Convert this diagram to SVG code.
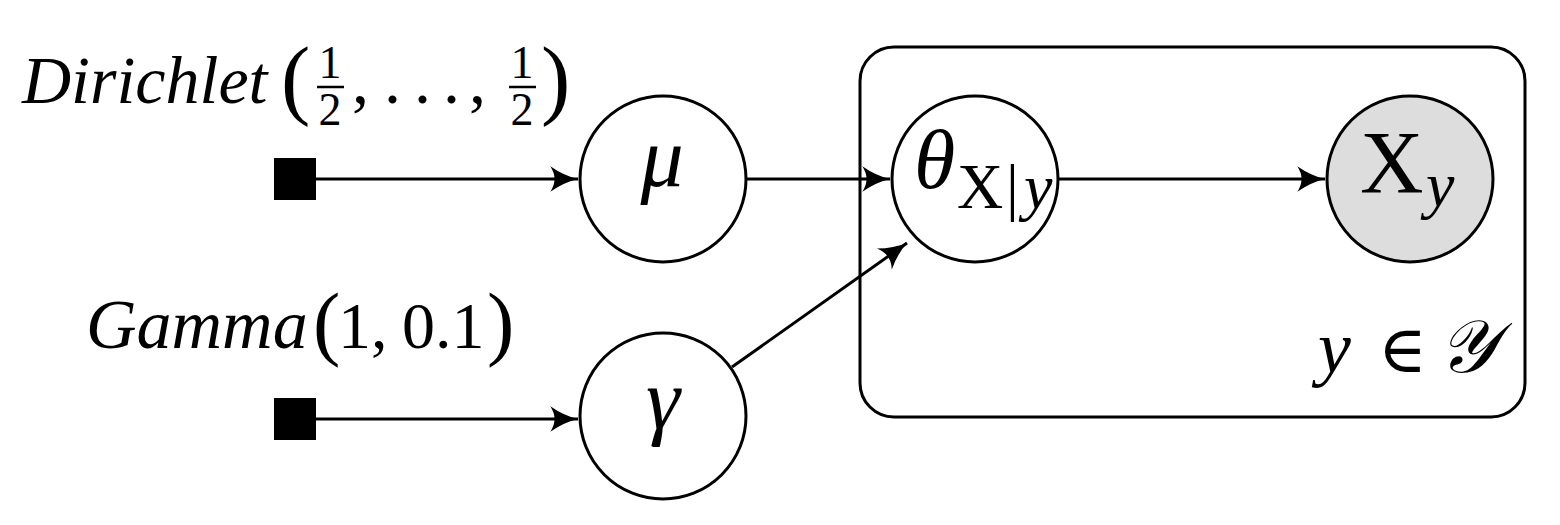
<svg xmlns="http://www.w3.org/2000/svg" width="1560" height="525" viewBox="0 0 1560 525">
<style>
.n{fill:#fff;stroke:#000;stroke-width:3}
.obs{fill:#dddddd;stroke:#000;stroke-width:3}
.e{stroke:#000;stroke-width:3;fill:none;marker-end:url(#ah)}
.t{font-family:"Liberation Serif","DejaVu Serif",serif;fill:#000}
.i{font-style:italic}
</style>
<defs>
<marker id="ah" markerUnits="userSpaceOnUse" markerWidth="32" markerHeight="32" viewBox="-28 -14 30 28" refX="0" refY="0" orient="auto">
<path d="M-26,-12 Q-13,-3 0,0 Q-13,3 -26,12 Q-18,0 -26,-12 Z" fill="#000"/>
</marker>
</defs>
<g id="plate">
<rect x="860" y="47" width="665" height="370" rx="34" ry="34" fill="none" stroke="#000" stroke-width="3"/>
<text class="t" font-size="74" y="372"><tspan class="i" x="1318">y</tspan><tspan x="1378" font-size="66">∈</tspan><tspan class="i" x="1438" font-family="'DejaVu Serif',serif">𝒴</tspan></text>
</g>
<g id="edges">
<line class="e" x1="316" y1="179" x2="578" y2="179"/>
<line class="e" x1="316" y1="419" x2="578" y2="419"/>
<line class="e" x1="747" y1="179" x2="890" y2="179"/>
<line class="e" x1="732" y1="367" x2="907" y2="243"/>
<line class="e" x1="1059" y1="179" x2="1325" y2="179"/>
</g>
<g id="dirichlet">
<rect x="274" y="158" width="42" height="42" fill="#000"/>
<text class="t i" font-size="68" x="22" y="103">Dirichlet</text>
<text class="t" font-size="88" x="281" y="108">(</text>
<text class="t" font-size="46" text-anchor="middle"><tspan x="330" y="78">1</tspan><tspan x="330" y="125">2</tspan></text>
<line x1="317" y1="87" x2="344" y2="87" stroke="#000" stroke-width="2.5"/>
<text class="t" font-size="68" y="103"><tspan x="352">,</tspan><tspan x="384">.</tspan><tspan x="414">.</tspan><tspan x="443">.</tspan><tspan x="469">,</tspan></text>
<text class="t" font-size="46" text-anchor="middle"><tspan x="522" y="78">1</tspan><tspan x="522" y="125">2</tspan></text>
<line x1="509" y1="87" x2="536" y2="87" stroke="#000" stroke-width="2.5"/>
<text class="t" font-size="88" x="541" y="108">)</text>
</g>
<g id="gamma-prior">
<rect x="274" y="398" width="42" height="42" fill="#000"/>
<text class="t i" font-size="70" x="86" y="348">Gamma</text>
<text class="t" font-size="82" x="313" y="350">(</text>
<text class="t" font-size="66" y="348"><tspan x="338">1,</tspan><tspan x="402">0.1</tspan></text>
<text class="t" font-size="82" x="487" y="350">)</text>
</g>
<g id="mu">
<circle class="n" cx="663" cy="179" r="83"/>
<text class="t i" font-size="86" x="662" y="186" text-anchor="middle">μ</text>
</g>
<g id="gamma">
<circle class="n" cx="663" cy="416" r="83"/>
<text class="t i" font-size="86" x="663" y="428" text-anchor="middle">γ</text>
</g>
<g id="theta">
<circle class="n" cx="975" cy="179" r="83"/>
<text class="t i" font-size="84" x="914" y="188">θ</text>
<text class="t" font-size="64" y="208"><tspan x="957">X</tspan><tspan x="1006">|</tspan><tspan class="i" x="1024">y</tspan></text>
</g>
<g id="X">
<circle class="obs" cx="1410" cy="179" r="83"/>
<text class="t" font-size="88" x="1360" y="192">X</text>
<text class="t i" font-size="64" x="1426" y="206">y</text>
</g>
</svg>
